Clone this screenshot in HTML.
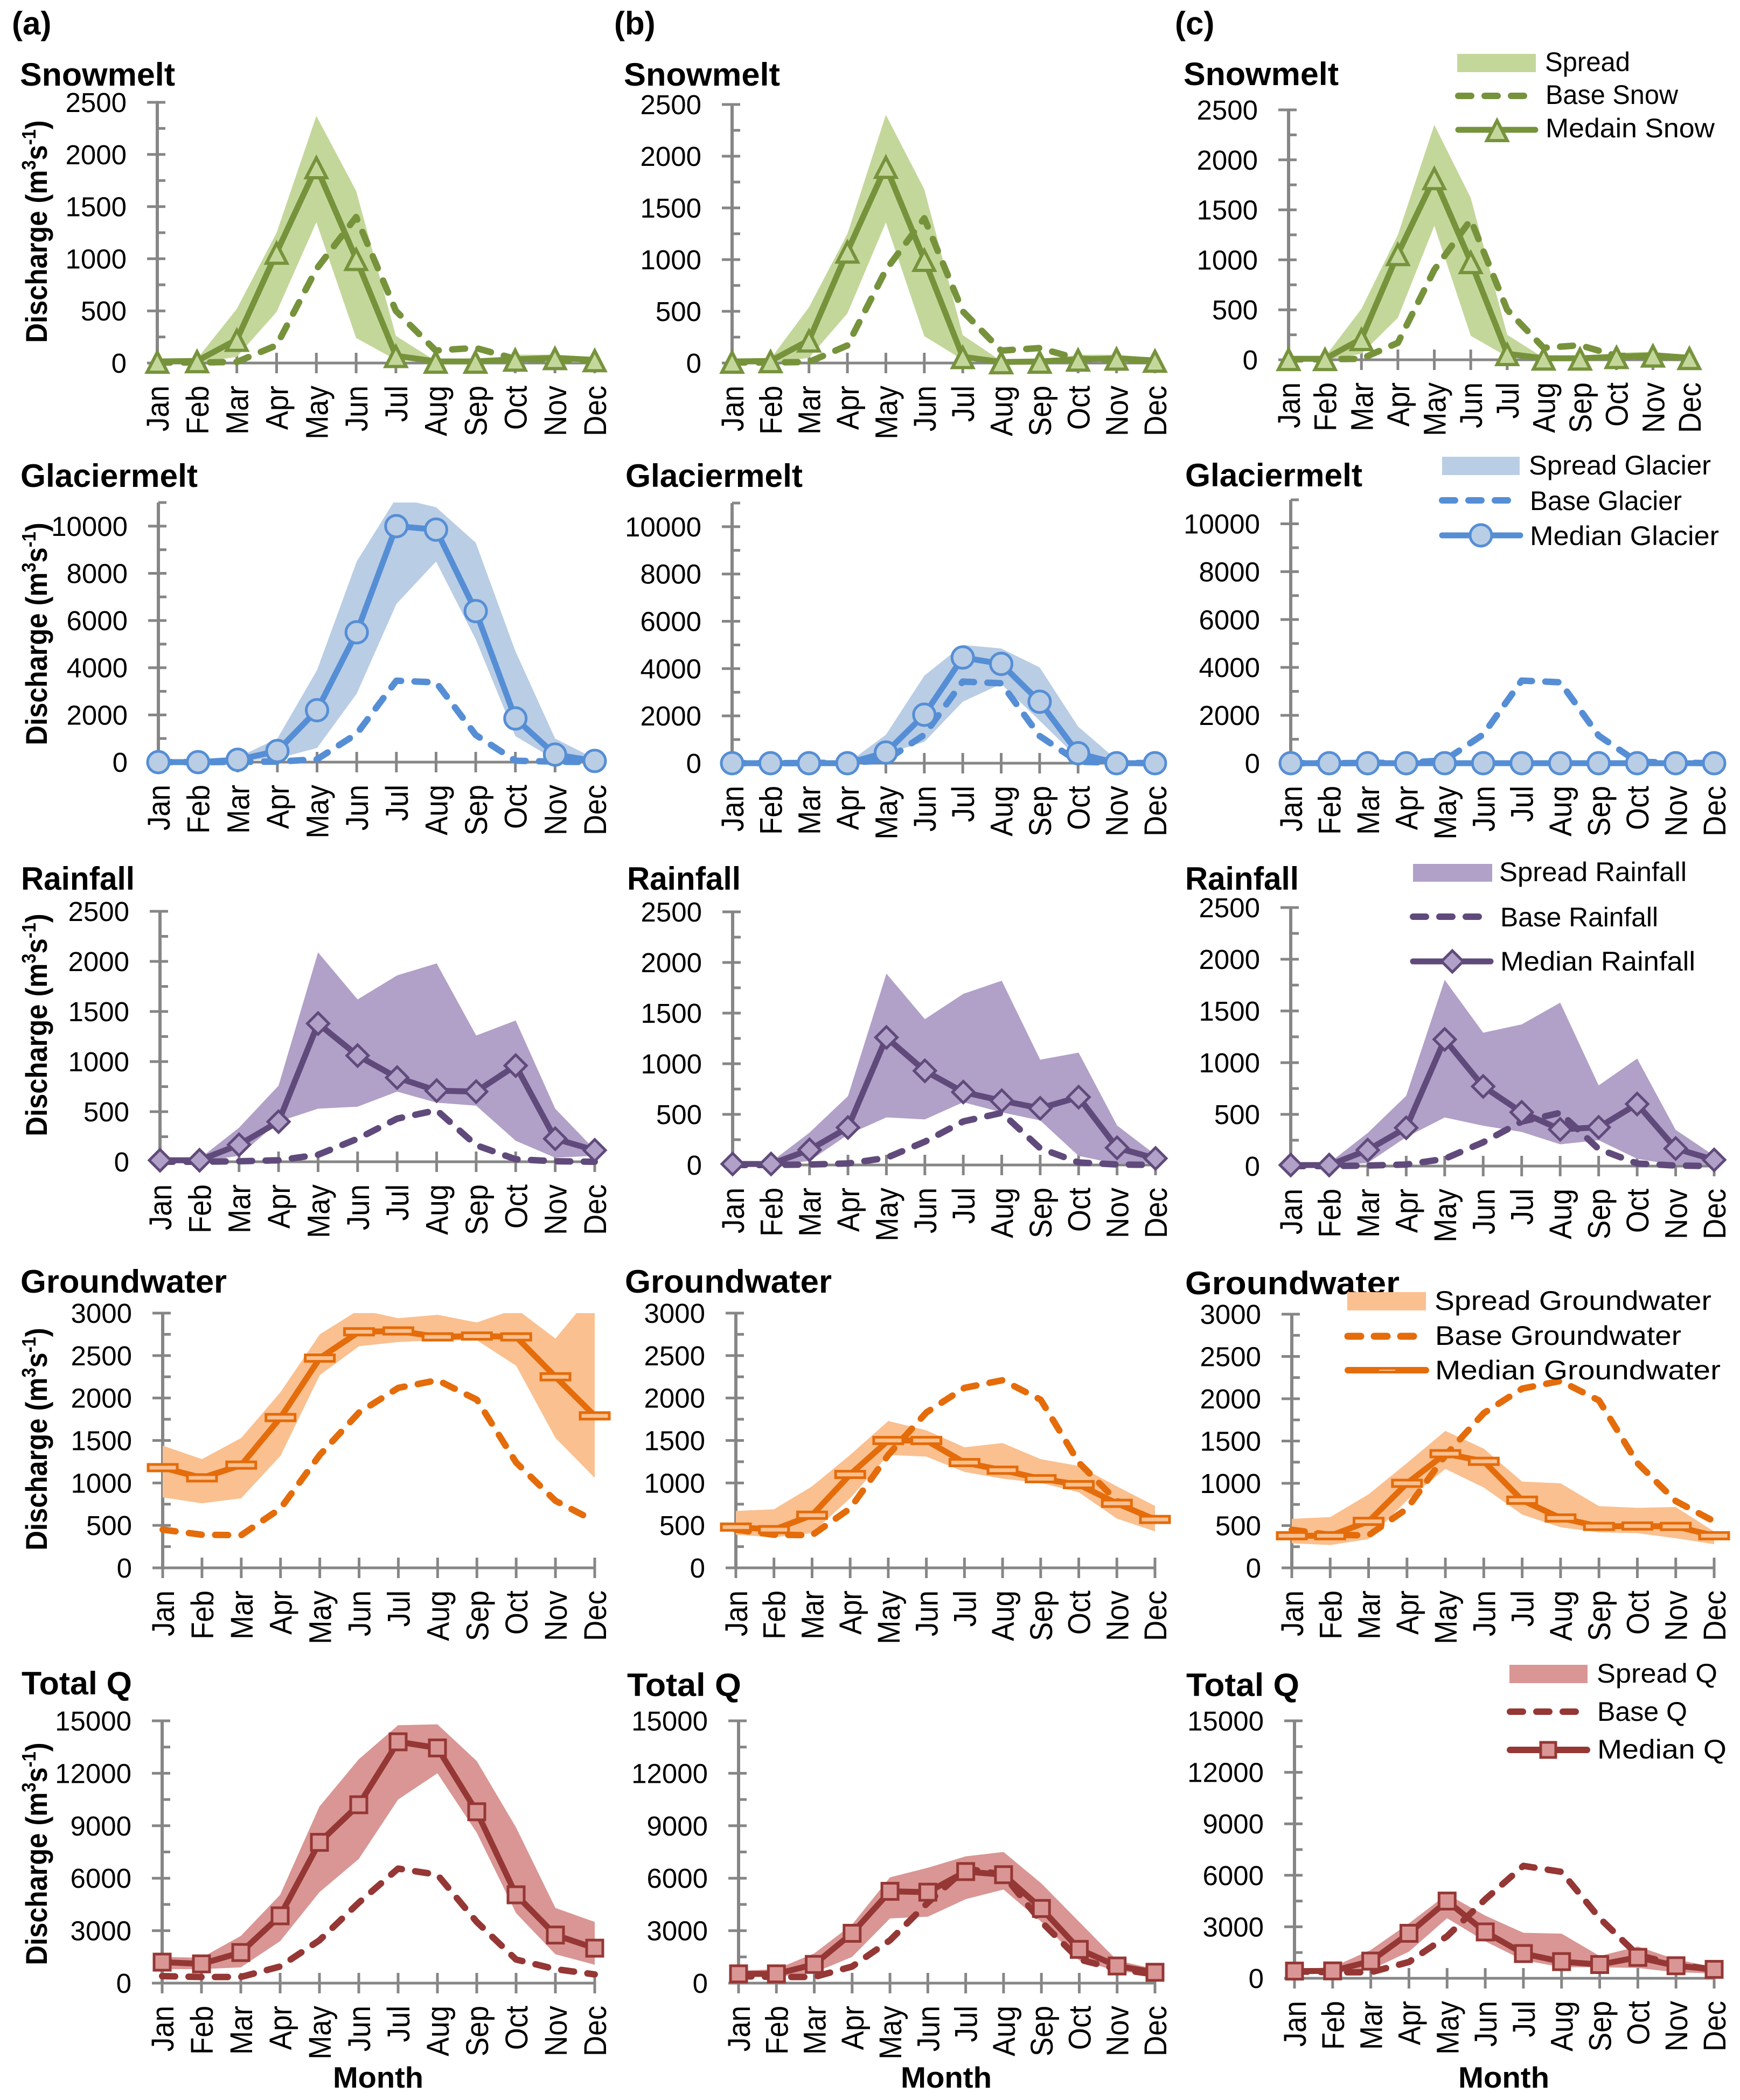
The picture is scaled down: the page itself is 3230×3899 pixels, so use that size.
<!DOCTYPE html>
<html lang="en">
<head>
<meta charset="utf-8">
<title>Discharge components by month</title>
<style>
html,body{margin:0;padding:0;background:#fff;}
svg{display:block;}
text{font-family:"Liberation Sans",Arial,sans-serif;fill:#000;}
.col{font-size:60px;font-weight:bold;}
.ttl{font-size:60px;font-weight:bold;}
.yt{font-size:56px;font-weight:bold;}
.mo{font-size:55px;font-weight:bold;}
.lg{font-size:50px;}
</style>
</head>
<body>
<svg xmlns="http://www.w3.org/2000/svg" width="3230" height="3899" viewBox="0 0 3230 3899">
<rect width="3230" height="3899" fill="#fff"/>

<g>
<text class="col" x="22" y="64">(a)</text>
<text class="col" x="1140" y="64">(b)</text>
<text class="col" x="2181" y="64">(c)</text>
</g>

<g>
<text class="ttl" x="37" y="159" textLength="288" lengthAdjust="spacingAndGlyphs">Snowmelt</text>
<text class="ttl" x="1158" y="159" textLength="290" lengthAdjust="spacingAndGlyphs">Snowmelt</text>
<text class="ttl" x="2197" y="158" textLength="288" lengthAdjust="spacingAndGlyphs">Snowmelt</text>
<text class="ttl" x="38" y="904" textLength="329" lengthAdjust="spacingAndGlyphs">Glaciermelt</text>
<text class="ttl" x="1161" y="904" textLength="329" lengthAdjust="spacingAndGlyphs">Glaciermelt</text>
<text class="ttl" x="2200" y="903" textLength="329" lengthAdjust="spacingAndGlyphs">Glaciermelt</text>
<text class="ttl" x="39" y="1652" textLength="211" lengthAdjust="spacingAndGlyphs">Rainfall</text>
<text class="ttl" x="1164" y="1652" textLength="211" lengthAdjust="spacingAndGlyphs">Rainfall</text>
<text class="ttl" x="2200" y="1652" textLength="211" lengthAdjust="spacingAndGlyphs">Rainfall</text>
<text class="ttl" x="38" y="2400" textLength="383" lengthAdjust="spacingAndGlyphs">Groundwater</text>
<text class="ttl" x="1160" y="2400" textLength="384" lengthAdjust="spacingAndGlyphs">Groundwater</text>
<text class="ttl" x="2200" y="2403" textLength="398" lengthAdjust="spacingAndGlyphs">Groundwater</text>
<text class="ttl" x="40" y="3146" textLength="205" lengthAdjust="spacingAndGlyphs">Total Q</text>
<text class="ttl" x="1164" y="3149" textLength="212" lengthAdjust="spacingAndGlyphs">Total Q</text>
<text class="ttl" x="2202" y="3149" textLength="210" lengthAdjust="spacingAndGlyphs">Total Q</text>
</g>

<g>
<text class="yt" transform="translate(87 430) rotate(-90) scale(.905 1)" text-anchor="middle">Discharge (m<tspan font-size="36" dy="-21">3</tspan><tspan dy="21">s</tspan><tspan font-size="36" dy="-21">-1</tspan><tspan dy="21">)</tspan></text>
<text class="yt" transform="translate(87 1177) rotate(-90) scale(.905 1)" text-anchor="middle">Discharge (m<tspan font-size="36" dy="-21">3</tspan><tspan dy="21">s</tspan><tspan font-size="36" dy="-21">-1</tspan><tspan dy="21">)</tspan></text>
<text class="yt" transform="translate(87 1903) rotate(-90) scale(.905 1)" text-anchor="middle">Discharge (m<tspan font-size="36" dy="-21">3</tspan><tspan dy="21">s</tspan><tspan font-size="36" dy="-21">-1</tspan><tspan dy="21">)</tspan></text>
<text class="yt" transform="translate(87 2672) rotate(-90) scale(.905 1)" text-anchor="middle">Discharge (m<tspan font-size="36" dy="-21">3</tspan><tspan dy="21">s</tspan><tspan font-size="36" dy="-21">-1</tspan><tspan dy="21">)</tspan></text>
<text class="yt" transform="translate(87 3442) rotate(-90) scale(.905 1)" text-anchor="middle">Discharge (m<tspan font-size="36" dy="-21">3</tspan><tspan dy="21">s</tspan><tspan font-size="36" dy="-21">-1</tspan><tspan dy="21">)</tspan></text>
</g>

<g>
<text class="mo" x="618" y="3876" textLength="168" lengthAdjust="spacingAndGlyphs">Month</text>
<text class="mo" x="1672" y="3876" textLength="169" lengthAdjust="spacingAndGlyphs">Month</text>
<text class="mo" x="2707" y="3876" textLength="169" lengthAdjust="spacingAndGlyphs">Month</text>
</g>

<g id="charts"></g>

<g>
<rect x="2705" y="100" width="146" height="34" fill="#C4D79B"/>
<text class="lg" x="2868" y="132" textLength="158" lengthAdjust="spacingAndGlyphs">Spread</text>
<line x1="2707" y1="178" x2="2850" y2="178" stroke="#76933C" stroke-width="12" stroke-linecap="round" stroke-dasharray="24 25"/>
<text class="lg" x="2869" y="193" textLength="246" lengthAdjust="spacingAndGlyphs">Base Snow</text>
<line x1="2707" y1="241" x2="2850" y2="241" stroke="#76933C" stroke-width="11" stroke-linecap="round"/>
<polygon points="2779,224 2798,261 2760,261" fill="#C4D79B" stroke="#76933C" stroke-width="6"/>
<text class="lg" x="2869" y="255" textLength="314" lengthAdjust="spacingAndGlyphs">Medain Snow</text>
</g>

<g>
<rect x="2677" y="848" width="144" height="34" fill="#B9CDE5"/>
<text class="lg" x="2838" y="881" textLength="338" lengthAdjust="spacingAndGlyphs">Spread Glacier</text>
<line x1="2677" y1="929" x2="2802" y2="929" stroke="#558ED5" stroke-width="12" stroke-linecap="round" stroke-dasharray="24 25"/>
<text class="lg" x="2840" y="947" textLength="282" lengthAdjust="spacingAndGlyphs">Base Glacier</text>
<line x1="2677" y1="994" x2="2822" y2="994" stroke="#558ED5" stroke-width="11" stroke-linecap="round"/>
<circle cx="2749" cy="994" r="20" fill="#B9CDE5" stroke="#558ED5" stroke-width="5"/>
<text class="lg" x="2840" y="1012" textLength="351" lengthAdjust="spacingAndGlyphs">Median Glacier</text>
</g>

<g>
<rect x="2623" y="1604" width="147" height="33" fill="#B1A0C7"/>
<text class="lg" x="2783" y="1636" textLength="348" lengthAdjust="spacingAndGlyphs">Spread Rainfall</text>
<line x1="2623" y1="1702" x2="2749" y2="1702" stroke="#604A7B" stroke-width="12" stroke-linecap="round" stroke-dasharray="24 25"/>
<text class="lg" x="2785" y="1720" textLength="293" lengthAdjust="spacingAndGlyphs">Base Rainfall</text>
<line x1="2623" y1="1785" x2="2767" y2="1785" stroke="#604A7B" stroke-width="11" stroke-linecap="round"/>
<polygon points="2696,1765 2716,1785 2696,1805 2676,1785" fill="#B1A0C7" stroke="#604A7B" stroke-width="5"/>
<text class="lg" x="2785" y="1802" textLength="362" lengthAdjust="spacingAndGlyphs">Median Rainfall</text>
</g>

<g>
<rect x="2501" y="2399" width="146" height="34" fill="#FAC090"/>
<text class="lg" x="2663" y="2432" textLength="514" lengthAdjust="spacingAndGlyphs">Spread Groundwater</text>
<line x1="2502" y1="2481" x2="2629" y2="2481" stroke="#E46C0A" stroke-width="13" stroke-linecap="round" stroke-dasharray="24 25"/>
<text class="lg" x="2664" y="2497" textLength="457" lengthAdjust="spacingAndGlyphs">Base Groundwater</text>
<line x1="2502" y1="2544" x2="2647" y2="2544" stroke="#E46C0A" stroke-width="12" stroke-linecap="round"/>
<rect x="2560" y="2543" width="30" height="2" fill="#FAC090"/>
<text class="lg" x="2664" y="2561" textLength="530" lengthAdjust="spacingAndGlyphs">Median Groundwater</text>
</g>

<g>
<rect x="2802" y="3091" width="145" height="34" fill="#D99694"/>
<text class="lg" x="2964" y="3124" textLength="224" lengthAdjust="spacingAndGlyphs">Spread Q</text>
<line x1="2803" y1="3178" x2="2929" y2="3178" stroke="#953735" stroke-width="12" stroke-linecap="round" stroke-dasharray="24 25"/>
<text class="lg" x="2965" y="3195" textLength="167" lengthAdjust="spacingAndGlyphs">Base Q</text>
<line x1="2803" y1="3249" x2="2946" y2="3249" stroke="#953735" stroke-width="12" stroke-linecap="round"/>
<rect x="2860" y="3235" width="28" height="28" fill="#D99694" stroke="#953735" stroke-width="5"/>
<text class="lg" x="2965" y="3265" textLength="240" lengthAdjust="spacingAndGlyphs">Median Q</text>
</g>
</svg>

<script>
// ---- categories and tick labels ----
const months = ['Jan','Feb','Mar','Apr','May','Jun','Jul','Aug','Sep','Oct','Nov','Dec'];
const snowTicks = [0,500,1000,1500,2000,2500];
const glacierTicks = [0,2000,4000,6000,8000,10000];
const rainTicks = [0,500,1000,1500,2000,2500];
const groundTicks = [0,500,1000,1500,2000,2500,3000];
const totalTicks = [0,3000,6000,9000,12000,15000];
const snowAxisMax = 2500;
const glacierAxisMax = 11000;
const rainAxisMax = 2500;
const groundAxisMax = 3000;
const totalAxisMax = 15000;

// ---- base series (shared across the three scenarios) ----
const snowBase = [5,5,10,170,900,1400,500,120,145,40,30,20];
const glacierBase = [0,0,10,20,120,1200,3450,3380,1150,60,20,0];
const rainBase = [0,0,5,15,70,230,430,515,165,25,5,0];
const groundBase = [450,390,385,700,1330,1830,2120,2210,1980,1240,790,550];
const totalBase = [400,350,350,950,2450,4600,6550,6200,3500,1350,800,500];

// ---- snowmelt ----
const snowMedianA = [15,20,225,1060,1880,1000,70,15,15,35,50,30];
const snowUpperA = [20,40,520,1250,2370,1650,260,20,20,80,80,50];
const snowLowerA = [0,0,60,490,1350,240,30,0,0,10,10,5];
const snowMedianB = [15,20,220,1080,1900,1000,60,10,15,35,45,25];
const snowUpperB = [20,40,540,1250,2400,1680,270,20,20,80,80,50];
const snowLowerB = [0,0,50,480,1360,260,30,0,0,10,10,5];
const snowMedianC = [10,10,210,1060,1820,980,60,15,15,30,45,20];
const snowUpperC = [15,30,510,1250,2350,1620,250,20,20,70,80,40];
const snowLowerC = [0,0,60,420,1340,240,30,0,0,10,10,5];

// ---- glaciermelt ----
const glacierMedianA = [0,0,100,470,2200,5500,10000,9850,6400,1850,320,50];
const glacierUpperA = [0,0,200,1000,3900,8500,11200,10800,9300,4700,1000,150];
const glacierLowerA = [0,0,50,150,600,2900,6700,8500,5200,1100,100,10];
const glacierMedianB = [0,0,0,0,450,2050,4470,4200,2600,420,0,0];
const glacierUpperB = [0,0,0,0,1200,3700,5000,4850,4050,1550,150,0];
const glacierLowerB = [0,0,0,0,400,900,2600,3350,1800,200,0,0];
const glacierMedianC = [0,0,0,0,0,0,0,0,0,0,0,0];
const glacierUpperC = [0,0,0,0,0,0,0,0,0,0,0,0];
const glacierLowerC = [0,0,0,0,0,0,0,0,0,0,0,0];

// ---- rainfall ----
const rainMedianA = [15,15,170,400,1380,1060,840,710,700,960,230,115];
const rainUpperA = [20,30,340,760,2090,1620,1860,1980,1260,1410,530,120];
const rainLowerA = [0,0,60,400,530,550,700,590,560,210,40,60];
const rainMedianB = [10,10,150,370,1260,930,720,635,560,670,170,65];
const rainUpperB = [15,30,320,680,1890,1440,1690,1820,1040,1110,390,100];
const rainLowerB = [0,0,40,300,470,450,620,520,440,90,10,20];
const rainMedianC = [10,10,155,370,1225,770,520,355,375,600,170,60];
const rainUpperC = [20,30,320,680,1800,1290,1370,1580,780,1040,350,100];
const rainLowerC = [0,0,30,280,470,390,330,210,250,70,10,10];

// ---- groundwater ----
const groundMedianA = [1180,1060,1210,1770,2470,2780,2790,2720,2730,2720,2250,1790];
const groundUpperA = [1440,1280,1530,2070,2750,3040,2940,2980,2890,3050,2700,3260];
const groundLowerA = [830,760,820,1320,2270,2610,2660,2680,2680,2380,1530,1060];
const groundMedianB = [480,450,620,1100,1500,1500,1240,1150,1050,980,760,570];
const groundUpperB = [670,690,960,1330,1730,1620,1420,1470,1280,1200,960,730];
const groundLowerB = [390,360,410,820,1330,1310,1130,1050,1000,890,580,430];
const groundMedianC = [380,380,550,1000,1350,1260,800,590,490,495,490,380];
const groundUpperC = [580,600,870,1240,1620,1410,1020,1000,730,710,720,430];
const groundLowerC = [290,270,340,800,1170,950,630,480,420,410,350,280];

// ---- total Q ----
const totalMedianA = [1200,1100,1750,3850,8050,10200,13800,13450,9800,5050,2750,2000];
const totalUpperA = [1500,1450,2700,5050,10100,12800,14750,14800,12700,8900,4300,3500];
const totalLowerA = [800,800,900,2400,5200,7100,10500,12000,8600,4000,1650,1050];
const totalMedianB = [530,530,1070,2850,5250,5200,6380,6200,4270,1930,980,620];
const totalUpperB = [700,800,1700,3350,6050,6600,7250,7500,5700,3500,1300,800];
const totalLowerB = [350,350,600,1500,3700,3800,4800,5350,3500,1300,700,450];
const totalMedianC = [420,430,1000,2620,4500,2700,1440,970,800,1220,730,520];
const totalUpperC = [500,650,1650,3200,4900,3650,2650,2600,1300,1850,1100,650];
const totalLowerC = [300,300,500,1550,3500,2150,1050,650,640,600,350,280];

// ---- styling per component ----
const looks = {
  snow:{line:'#76933C',fill:'#C4D79B',shape:'triangle'},
  glacier:{line:'#558ED5',fill:'#B9CDE5',shape:'circle'},
  rain:{line:'#604A7B',fill:'#B1A0C7',shape:'diamond'},
  ground:{line:'#E46C0A',fill:'#FAC090',shape:'bar'},
  total:{line:'#953735',fill:'#D99694',shape:'square'}
};

// ---- panel layout: frames in page pixels, series by reference ----
const panels = [
 {name:'snowmelt-panel-a',look:'snow',x0:292,x1:1104,top:190,bot:674,max:snowAxisMax,ticks:snowTicks,base:snowBase,median:snowMedianA,upper:snowUpperA,lower:snowLowerA},
 {name:'snowmelt-panel-b',look:'snow',x0:1359,x1:2144,top:194,bot:674,max:snowAxisMax,ticks:snowTicks,base:snowBase,median:snowMedianB,upper:snowUpperB,lower:snowLowerB},
 {name:'snowmelt-panel-c',look:'snow',x0:2392,x1:3136,top:204,bot:668,max:snowAxisMax,ticks:snowTicks,base:snowBase,median:snowMedianC,upper:snowUpperC,lower:snowLowerC},
 {name:'glaciermelt-panel-a',look:'glacier',x0:294,x1:1104,top:933,bot:1415,max:glacierAxisMax,ticks:glacierTicks,base:glacierBase,median:glacierMedianA,upper:glacierUpperA,lower:glacierLowerA},
 {name:'glaciermelt-panel-b',look:'glacier',x0:1359,x1:2144,top:934,bot:1417,max:glacierAxisMax,ticks:glacierTicks,base:glacierBase,median:glacierMedianB,upper:glacierUpperB,lower:glacierLowerB},
 {name:'glaciermelt-panel-c',look:'glacier',x0:2396,x1:3182,top:928,bot:1417,max:glacierAxisMax,ticks:glacierTicks,base:glacierBase,median:glacierMedianC,upper:glacierUpperC,lower:glacierLowerC},
 {name:'rainfall-panel-a',look:'rain',x0:297,x1:1104,top:1692,bot:2157,max:rainAxisMax,ticks:rainTicks,base:rainBase,median:rainMedianA,upper:rainUpperA,lower:rainLowerA},
 {name:'rainfall-panel-b',look:'rain',x0:1360,x1:2145,top:1693,bot:2163,max:rainAxisMax,ticks:rainTicks,base:rainBase,median:rainMedianB,upper:rainUpperB,lower:rainLowerB},
 {name:'rainfall-panel-c',look:'rain',x0:2396,x1:3182,top:1685,bot:2165,max:rainAxisMax,ticks:rainTicks,base:rainBase,median:rainMedianC,upper:rainUpperC,lower:rainLowerC},
 {name:'groundwater-panel-a',look:'ground',x0:302,x1:1104,top:2438,bot:2911,max:groundAxisMax,ticks:groundTicks,base:groundBase,median:groundMedianA,upper:groundUpperA,lower:groundLowerA},
 {name:'groundwater-panel-b',look:'ground',x0:1366,x1:2144,top:2438,bot:2911,max:groundAxisMax,ticks:groundTicks,base:groundBase,median:groundMedianB,upper:groundUpperB,lower:groundLowerB},
 {name:'groundwater-panel-c',look:'ground',x0:2398,x1:3182,top:2440,bot:2911,max:groundAxisMax,ticks:groundTicks,base:groundBase,median:groundMedianC,upper:groundUpperC,lower:groundLowerC},
 {name:'total-q-panel-a',look:'total',x0:301,x1:1104,top:3195,bot:3682,max:totalAxisMax,ticks:totalTicks,base:totalBase,median:totalMedianA,upper:totalUpperA,lower:totalLowerA},
 {name:'total-q-panel-b',look:'total',x0:1371,x1:2144,top:3195,bot:3682,max:totalAxisMax,ticks:totalTicks,base:totalBase,median:totalMedianB,upper:totalUpperB,lower:totalLowerB},
 {name:'total-q-panel-c',look:'total',x0:2403,x1:3182,top:3195,bot:3673,max:totalAxisMax,ticks:totalTicks,base:totalBase,median:totalMedianC,upper:totalUpperC,lower:totalLowerC}
];

const NS = 'http://www.w3.org/2000/svg';
const AXIS = '#868686';
const root = document.getElementById('charts');

function make(tag, attrs, parent){
  const node = document.createElementNS(NS, tag);
  for (const k in attrs) node.setAttribute(k, attrs[k]);
  parent.appendChild(node);
  return node;
}

function drawMarker(shape, x, y, look, parent){
  let m;
  if (shape === 'triangle') {
    m = make('polygon',{points:(x)+','+(y-17)+' '+(x+19)+','+(y+20)+' '+(x-19)+','+(y+20),fill:look.fill,stroke:look.line,'stroke-width':6},parent);
  } else if (shape === 'circle') {
    m = make('circle',{cx:x,cy:y,r:20,fill:look.fill,stroke:look.line,'stroke-width':5},parent);
  } else if (shape === 'diamond') {
    m = make('polygon',{points:x+','+(y-20)+' '+(x+20)+','+y+' '+x+','+(y+20)+' '+(x-20)+','+y,fill:look.fill,stroke:look.line,'stroke-width':5},parent);
  } else if (shape === 'bar') {
    m = make('rect',{x:x-27,y:y-6,width:54,height:12,fill:look.fill,stroke:look.line,'stroke-width':5},parent);
  } else {
    m = make('rect',{x:x-15,y:y-15,width:30,height:30,fill:look.fill,stroke:look.line,'stroke-width':5},parent);
  }
  return m;
}

panels.forEach(function(p, idx){
  const look = looks[p.look];
  const xAt = function(i){ return p.x0 + i * (p.x1 - p.x0) / (months.length - 1); };
  const yAt = function(v){ return p.bot - v / p.max * (p.bot - p.top); };

  const g = make('g',{},root);
  
  

  // y axis
  const yLine = make('line',{x1:p.x0,x2:p.x0,y1:p.top,y2:p.bot,stroke:AXIS,'stroke-width':6},g);
  
  
  const step = p.ticks[1] - p.ticks[0];
  p.ticks.forEach(function(t){
    const tick = make('line',{x1:p.x0-19,x2:p.x0+15,y1:yAt(t),y2:yAt(t),stroke:AXIS,'stroke-width':5},g);
    
    
    const lab = make('text',{x:p.x0-57,y:yAt(t)+18,'text-anchor':'end','font-size':51},g);
    lab.textContent = String(t);
    
    
    if (t + step / 2 <= p.max) {
      const minor = make('line',{x1:p.x0,x2:p.x0+15,y1:yAt(t+step/2),y2:yAt(t+step/2),stroke:AXIS,'stroke-width':5},g);
      
      
    }
  });

  // x axis
  const xLine = make('line',{x1:p.x0-19,x2:p.x1,y1:p.bot,y2:p.bot,stroke:AXIS,'stroke-width':5},g);
  
  
  months.forEach(function(mn, i){
    const tick = make('line',{x1:xAt(i),x2:xAt(i),y1:p.bot-19,y2:p.bot+19,stroke:AXIS,'stroke-width':5},g);
    
    
    const lab = make('text',{'text-anchor':'end','font-size':58,transform:'translate('+(xAt(i)+21)+' '+(p.bot+42)+') rotate(-90) scale(.91 1)'},g);
    lab.textContent = mn;
    
    
  });

  // clip for values running past the axis maximum
  const clip = make('clipPath',{id:'clip-'+idx},g);
  make('rect',{x:p.x0-40,y:p.top,width:p.x1-p.x0+80,height:p.bot-p.top+40},clip);

  // spread band
  const upperPts = p.upper.map(function(v,i){ return xAt(i)+','+yAt(v); });
  const lowerPts = p.lower.map(function(v,i){ return xAt(i)+','+yAt(v); }).reverse();
  const band = make('polygon',{points:upperPts.concat(lowerPts).join(' '),fill:look.fill,'clip-path':'url(#clip-'+idx+')'},g);
  
  

  // base scenario
  const basePts = p.base.map(function(v,i){ return xAt(i)+','+yAt(v); }).join(' ');
  const baseLine = make('polyline',{points:basePts,fill:'none',stroke:look.line,'stroke-width':12,'stroke-linecap':'round','stroke-linejoin':'round','stroke-dasharray':'24 25'},g);
  
  

  // median series
  const medPts = p.median.map(function(v,i){ return xAt(i)+','+yAt(v); }).join(' ');
  const medLine = make('polyline',{points:medPts,fill:'none',stroke:look.line,'stroke-width':11,'stroke-linejoin':'round'},g);
  
  
  p.median.forEach(function(v,i){
    const marker = drawMarker(look.shape, xAt(i), yAt(v), look, g);
    
    
  });
});
</script>
</body>
</html>
